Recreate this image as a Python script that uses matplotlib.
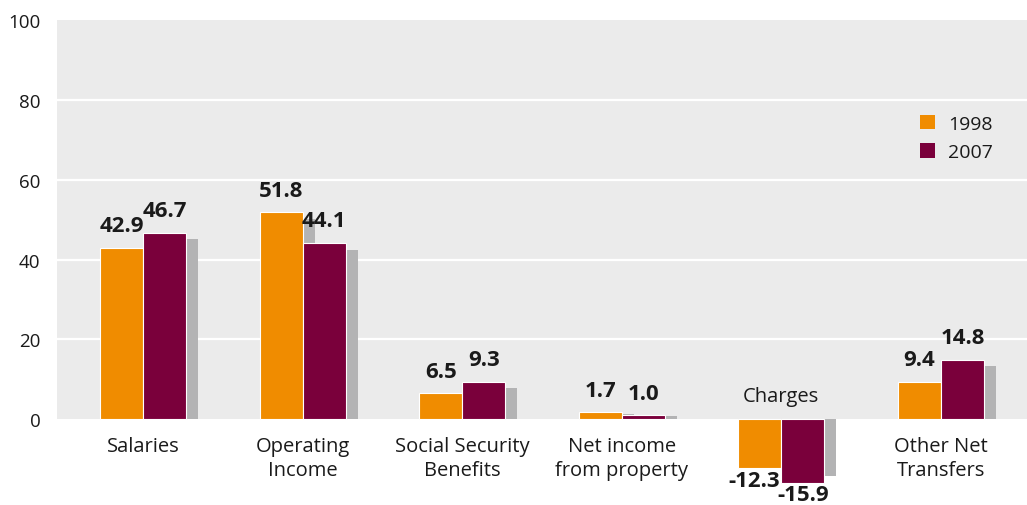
import numpy as np
import matplotlib
matplotlib.use("Agg")
import matplotlib.pyplot as plt
from matplotlib.patches import Patch

plt.rcParams["font.family"] = ["Open Sans", "DejaVu Sans"]

# ---------- data ----------
categories = ["Salaries", "Operating\nIncome", "Social Security\nBenefits",
              "Net income\nfrom property", "Charges", "Other Net\nTransfers"]
years = ["1998", "2007"]
vals_1998 = [42.9, 51.8, 6.5, 1.7, -12.3, 9.4]
vals_2007 = [46.7, 44.1, 9.3, 1.0, -15.9, 14.8]

ORANGE = "#f08c00"
MAROON = "#7a003b"
SHADOW = "#b3b3b4"
BG = "#ebebeb"
TXT = "#1a1a1a"

fig = plt.figure(figsize=(10.27, 5.06), dpi=100)
ax = fig.add_axes([57 / 1027, 0, 970 / 1027, 485 / 506])
ax.set_facecolor("white")

x = np.arange(len(categories))
w = 0.27
shift = 0.075  # shadow offset to the right


def shadow_of(v):
    v = np.asarray(v, dtype=float)
    return v - np.sign(v) * np.minimum(1.6, 0.2 * np.abs(v))


# gray plotting band from 0 to 100 with white gridlines
ax.axhspan(0, 100, color=BG, zorder=0, lw=0)
for g in [20, 40, 60, 80]:
    ax.axhline(g, color="white", lw=1.6, zorder=1)

# shadows
ax.bar(x - w / 2 + shift, shadow_of(vals_1998), w, color=SHADOW, zorder=2, lw=0)
ax.bar(x + w / 2 + shift, shadow_of(vals_2007), w, color=SHADOW, zorder=2, lw=0)

# bars
b1 = ax.bar(x - w / 2, vals_1998, w, color=ORANGE, edgecolor="white", lw=0.8, zorder=3)
b2 = ax.bar(x + w / 2, vals_2007, w, color=MAROON, edgecolor="white", lw=0.8, zorder=3)

# value labels
for bars, vals, dx in [(b1, vals_1998, -4), (b2, vals_2007, 0)]:
    for rect, v in zip(bars, vals):
        cx = rect.get_x() + rect.get_width() / 2
        if v >= 0:
            ax.annotate(f"{v:.1f}", (cx, v), xytext=(0, 12), textcoords="offset points",
                        ha="center", va="baseline", fontsize=16, fontweight="bold",
                        color=TXT, zorder=5)
        else:
            ax.annotate(f"{v:.1f}", (cx, v), xytext=(dx, -1), textcoords="offset points",
                        ha="center", va="top", fontsize=16, fontweight="bold",
                        color=TXT, zorder=5)

# category labels
for i, (cat, v) in enumerate(zip(categories, vals_2007)):
    if v < 0:
        ax.annotate(cat, (i, 0), xytext=(0, 13), textcoords="offset points",
                    ha="center", va="baseline", fontsize=14.5, color=TXT)
    else:
        ax.annotate(cat, (i, 0), xytext=(0, -12), textcoords="offset points",
                    ha="center", va="top", fontsize=14.5, color=TXT,
                    linespacing=1.3)

ax.set_xlim(-0.54, 5.54)
ax.set_ylim(-21.5, 100)
ax.set_yticks([0, 20, 40, 60, 80, 100])
ax.set_xticks([])
ax.tick_params(axis="y", length=0, pad=12, labelsize=13.5, labelcolor=TXT)
for s in ax.spines.values():
    s.set_visible(False)

handles = [Patch(facecolor=ORANGE, edgecolor="none"), Patch(facecolor=MAROON, edgecolor="none")]
ax.legend(handles, years, loc="upper left", bbox_to_anchor=(0.89, 0.805),
          frameon=False, fontsize=14, handlelength=0.75, handleheight=0.75,
          handletextpad=0.7, labelspacing=0.55, borderpad=0, borderaxespad=0,
          labelcolor=TXT)

plt.savefig("out.png", dpi=100)
plt.close()
